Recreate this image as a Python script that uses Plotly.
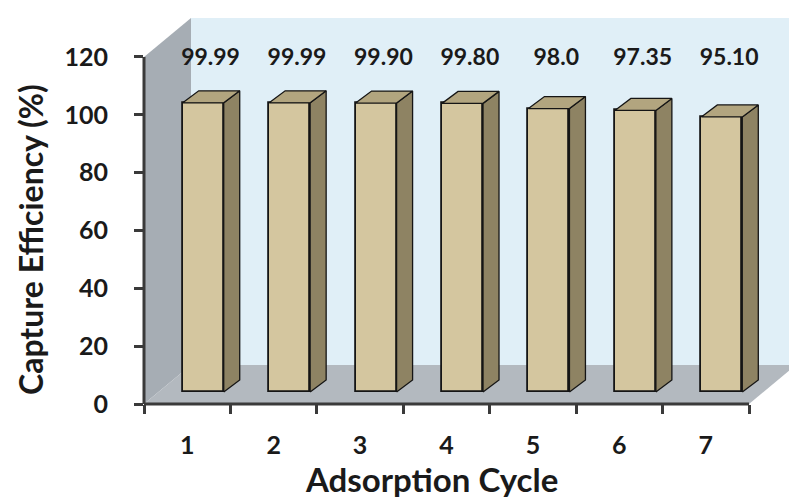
import plotly.graph_objects as go

# Capture efficiency over repeated adsorption cycles
cycles = [1, 2, 3, 4, 5, 6, 7]
cycle_labels = ["1", "2", "3", "4", "5", "6", "7"]
efficiency = [99.99, 99.99, 99.90, 99.80, 98.0, 97.35, 95.10]
value_labels = ["99.99", "99.99", "99.90", "99.80", "98.0", "97.35", "95.10"]
y_ticks = [0, 20, 40, 60, 80, 100, 120]

# Pseudo-3D geometry (axis units)
PX_X, PX_Y = 86.43, 2.892          # pixels per category / per percent
WALL_DX, WALL_DY = 47 / PX_X, 39 / PX_Y
FRONT_DX, FRONT_DY = 16 / PX_X, 12 / PX_Y
SIDE_DX, SIDE_DY = 16 / PX_X, 12 / PX_Y
BAR_W = 41 / PX_X
WALL_TOP = 120

FRONT = "#d4c69f"
SIDE = "#8e8363"
TOP = "#b2a57f"
EDGE = "#151515"
AXIS = "#3a3a3a"
TEXT = "#1a1a1a"
FONT = "Lato"

x0, x1 = 0.5, 7.5
fig = go.Figure()

# Bar front faces
fig.add_trace(go.Bar(
    x=[c + FRONT_DX for c in cycles], y=efficiency, base=FRONT_DY,
    width=BAR_W, marker=dict(color=FRONT, line=dict(color=EDGE, width=1.8)),
    hoverinfo="skip", showlegend=False,
))

# Side and top faces of each bar
for c, v in zip(cycles, efficiency):
    xl = c + FRONT_DX - BAR_W / 2
    xr = c + FRONT_DX + BAR_W / 2
    yb = FRONT_DY
    yt = FRONT_DY + v
    fig.add_trace(go.Scatter(
        x=[xr, xr + SIDE_DX, xr + SIDE_DX, xr, xr],
        y=[yb, yb + SIDE_DY, yt + SIDE_DY, yt, yb],
        fill="toself", fillcolor=SIDE, mode="lines",
        line=dict(color=EDGE, width=1.3), hoverinfo="skip", showlegend=False,
    ))
    fig.add_trace(go.Scatter(
        x=[xl, xr, xr + SIDE_DX, xl + SIDE_DX, xl],
        y=[yt, yt, yt + SIDE_DY, yt + SIDE_DY, yt],
        fill="toself", fillcolor=TOP, mode="lines",
        line=dict(color=EDGE, width=1.3), hoverinfo="skip", showlegend=False,
    ))

# Value labels
fig.add_trace(go.Scatter(
    x=[c + 0.27 for c in cycles], y=[119.2] * len(cycles),
    text=value_labels, mode="text",
    textfont=dict(family=FONT, size=23, weight="bold", color=TEXT),
    hoverinfo="skip", showlegend=False, cliponaxis=False,
))

def poly(pts):
    return "M " + " L ".join(f"{px},{py}" for px, py in pts) + " Z"

shapes = [
    # back wall
    dict(type="path", xref="x", yref="y", layer="below", line=dict(width=0),
         fillcolor="#e0eff7",
         path=poly([(x0 + WALL_DX, WALL_DY), (x1 + WALL_DX + 1, WALL_DY),
                    (x1 + WALL_DX + 1, WALL_TOP + WALL_DY), (x0 + WALL_DX, WALL_TOP + WALL_DY)])),
    # left wall
    dict(type="path", xref="x", yref="y", layer="below", line=dict(width=0),
         fillcolor="#a6adb4",
         path=poly([(x0, 0), (x0, WALL_TOP), (x0 + WALL_DX, WALL_TOP + WALL_DY),
                    (x0 + WALL_DX, WALL_DY)])),
    # floor
    dict(type="path", xref="x", yref="y", layer="below", line=dict(width=0),
         fillcolor="#b3b9bf",
         path=poly([(x0, 0), (x1, 0), (x1 + WALL_DX, WALL_DY), (x0 + WALL_DX, WALL_DY)])),
    # axis lines
    dict(type="line", xref="x", yref="y domain", x0=x0, x1=x1, y0=0, y1=0,
         line=dict(color=AXIS, width=3)),
    dict(type="line", xref="x domain", yref="y", x0=0, x1=0, y0=0, y1=WALL_TOP,
         line=dict(color=AXIS, width=3)),
]

fig.update_layout(
    width=789, height=500,
    margin=dict(l=144, r=0, t=10, b=96),
    paper_bgcolor="white", plot_bgcolor="white",
    shapes=shapes,
    bargap=0,
    xaxis=dict(
        range=[0.5, 0.5 + 645 / PX_X], tickvals=cycles, ticktext=cycle_labels,
        ticks="", showgrid=False, zeroline=False, showline=False,
        tickfont=dict(family=FONT, size=25, weight="bold", color=TEXT),
        ticklabelstandoff=24,
        minor=dict(tickvals=[x0 + i for i in range(8)], ticks="outside",
                   ticklen=9, tickwidth=2.5, tickcolor=AXIS, showgrid=False),
    ),
    yaxis=dict(
        range=[0, 394 / PX_Y], tickvals=y_ticks,
        ticks="outside", ticklen=9, tickwidth=2.5, tickcolor=AXIS,
        showgrid=False, zeroline=False, showline=False,
        tickfont=dict(family=FONT, size=25, weight="bold", color=TEXT),
        ticklabelstandoff=21,
    ),
    annotations=[
        dict(text="Adsorption Cycle", xref="paper", yref="paper",
             x=(431 - 144) / 645, y=-(479 - 404) / 394, xanchor="center", yanchor="middle",
             showarrow=False, font=dict(family=FONT, size=33, weight="bold", color=TEXT)),
        dict(text="Capture Efficiency (%)", xref="paper", yref="paper",
             x=-(144 - 30) / 645, y=(404 - 240) / 394, xanchor="center", yanchor="middle",
             textangle=-90, showarrow=False,
             font=dict(family=FONT, size=32, weight="bold", color=TEXT)),
    ],
)

fig.write_html("out.html")
